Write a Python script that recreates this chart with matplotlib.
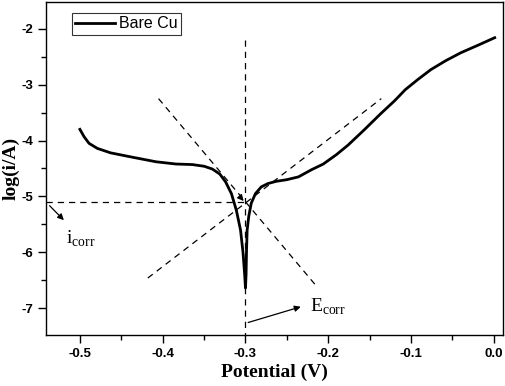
import numpy as np
import matplotlib
matplotlib.use("Agg")
import matplotlib.pyplot as plt
from matplotlib.ticker import MultipleLocator

# polarization curve (potential in V, log(i/A))
potential = [-0.500, -0.495, -0.489, -0.479, -0.463, -0.436, -0.408, -0.384,
             -0.364, -0.350, -0.340, -0.331, -0.324, -0.317, -0.311, -0.306,
             -0.303, -0.301, -0.300, -0.2993, -0.2988, -0.298, -0.296, -0.293,
             -0.288, -0.281, -0.273, -0.263, -0.250, -0.236, -0.220, -0.206,
             -0.190, -0.176, -0.156, -0.136, -0.120, -0.107, -0.092, -0.076,
             -0.058, -0.040, -0.020, 0.001]
log_i = [-3.80, -3.93, -4.05, -4.14, -4.22, -4.30, -4.38, -4.42,
         -4.43, -4.46, -4.51, -4.60, -4.74, -4.95, -5.25, -5.60,
         -6.00, -6.40, -6.64, -6.40, -6.00, -5.60, -5.35, -5.12,
         -4.95, -4.83, -4.77, -4.73, -4.70, -4.65, -4.52, -4.42,
         -4.25, -4.08, -3.80, -3.51, -3.29, -3.09, -2.91, -2.73,
         -2.57, -2.43, -2.30, -2.16]

# Tafel extrapolation lines (endpoints)
cathodic_x = [-0.405, -0.214]
cathodic_y = [-3.25, -6.61]
anodic_x = [-0.418, -0.136]
anodic_y = [-6.46, -3.25]
e_corr = -0.300
log_icorr = -5.10

plt.rcParams["font.family"] = ["Liberation Sans", "DejaVu Sans"]
plt.rcParams["mathtext.fontset"] = "custom"
plt.rcParams["mathtext.rm"] = "Liberation Serif"

fig = plt.figure(figsize=(5.05, 3.86), dpi=100)
ax = fig.add_axes([0.091, 0.132, 0.905, 0.863])

ax.plot(potential, log_i, color="black", linewidth=2.0, label="Bare Cu",
        solid_joinstyle="round")

dash = dict(color="black", linewidth=0.9, linestyle=(0, (5, 4)))
ax.plot(cathodic_x, cathodic_y, **dash)
ax.plot(anodic_x, anodic_y, **dash)
ax.plot([e_corr, e_corr], [-2.2, -7.48], **dash)
ax.plot([-0.541, e_corr], [log_icorr, log_icorr], **dash)

arrow = dict(arrowstyle="-|>", color="black", lw=0.9, mutation_scale=9)
ax.annotate("", xy=(-0.300, -5.12), xytext=(-0.307, -5.00), arrowprops=arrow)
ax.annotate("", xy=(-0.517, -5.46), xytext=(-0.539, -5.13), arrowprops=arrow)
ax.annotate("", xy=(-0.230, -6.96), xytext=(-0.300, -7.27), arrowprops=arrow)

ax.text(-0.5165, -5.75, r"$\mathrm{i}_{\mathrm{corr}}$", fontsize=14,
        ha="left", va="center")
ax.text(-0.222, -6.98, r"$\mathrm{E}_{\mathrm{corr}}$", fontsize=14,
        ha="left", va="center")

ax.set_xlim(-0.541, 0.011)
ax.set_ylim(-7.48, -1.52)
ax.xaxis.set_major_locator(MultipleLocator(0.1))
ax.xaxis.set_minor_locator(MultipleLocator(0.05))
ax.yaxis.set_major_locator(MultipleLocator(1))
ax.yaxis.set_minor_locator(MultipleLocator(0.5))
ax.xaxis.set_major_formatter(plt.FuncFormatter(lambda v, p: f"{v:.1f}"))
ax.yaxis.set_major_formatter(plt.FuncFormatter(lambda v, p: f"{v:.0f}"))
ax.tick_params(which="major", direction="out", length=6, width=1.0,
               labelsize=9.5, pad=3)
ax.tick_params(which="minor", direction="out", length=3.5, width=1.0)
for lbl in ax.get_xticklabels() + ax.get_yticklabels():
    lbl.set_fontweight("bold")
for sp in ax.spines.values():
    sp.set_linewidth(1.0)

ax.set_xlabel("Potential (V)", fontsize=14, fontweight="bold",
              family="Liberation Serif")
ax.set_ylabel("log(i/A)", fontsize=14, fontweight="bold",
              family="Liberation Serif")
ax.xaxis.set_label_coords(0.5, -0.085)
ax.yaxis.set_label_coords(-0.058, 0.5)

leg = ax.legend(loc="upper left", bbox_to_anchor=(0.057, 0.966), fontsize=11.5,
                frameon=True, fancybox=False, handlelength=2.5,
                borderpad=0.2, handletextpad=0.25, borderaxespad=0)
leg.get_frame().set_edgecolor("black")
leg.get_frame().set_linewidth(0.8)

fig.savefig("out.png", dpi=100)
